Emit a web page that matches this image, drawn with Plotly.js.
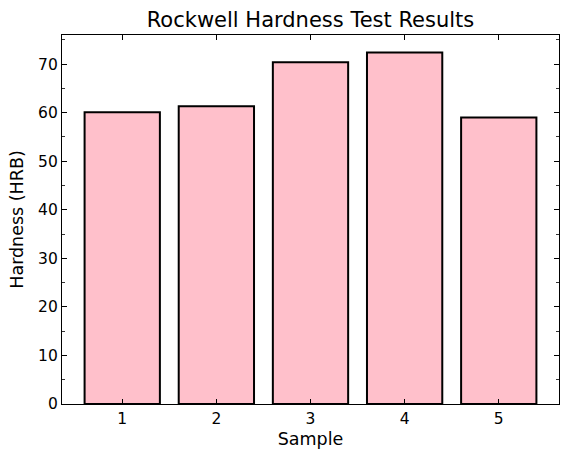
<!DOCTYPE html>
<html>
<head>
<meta charset="utf-8">
<script src="https://cdn.plot.ly/plotly-3.0.1.min.js"></script>
<style>html,body{margin:0;padding:0;background:#fff;}</style>
</head>
<body>
<div id="chart" style="width:567px;height:461px;"></div>
<script>
const samples = [1, 2, 3, 4, 5];
const sampleLabels = ["1", "2", "3", "4", "5"];
const hardness = [60.1, 61.3, 70.4, 72.4, 59.0];

const font = "DejaVu Sans, sans-serif";

const trace = {
  type: "bar",
  x: samples,
  y: hardness,
  width: 0.8,
  marker: {color: "#FFC0CB", line: {color: "#000000", width: 2}},
  hoverinfo: "skip"
};

const layout = {
  width: 567,
  height: 461,
  margin: {l: 62, r: 8, t: 35, b: 57},
  paper_bgcolor: "#ffffff",
  plot_bgcolor: "#ffffff",
  font: {family: font, color: "#000000"},
  showlegend: false,
  title: {
    text: "Rockwell Hardness Test Results",
    font: {family: font, size: 21, color: "#000000"},
    x: 0.5, xref: "paper", xanchor: "center",
    y: 1 - 20 / 461, yref: "container", yanchor: "middle"
  },
  xaxis: {
    range: [0.36, 5.64],
    tickmode: "array",
    tickvals: samples,
    ticktext: sampleLabels,
    ticks: "inside",
    ticklen: 5,
    tickwidth: 1,
    tickcolor: "#000",
    showline: true,
    linecolor: "#000",
    linewidth: 1.1,
    mirror: "ticks",
    showgrid: false,
    zeroline: false,
    tickfont: {family: font, size: 15.5, color: "#000"},
    title: {text: "Sample", font: {family: font, size: 17.5, color: "#000"}, standoff: 6},
    automargin: false
  },
  yaxis: {
    range: [0, 76.0],
    tickmode: "linear",
    tick0: 0,
    dtick: 10,
    ticks: "inside",
    ticklen: 5,
    tickwidth: 1,
    tickcolor: "#000",
    minor: {dtick: 5, tick0: 0, ticks: "inside", ticklen: 3, tickwidth: 0.8, tickcolor: "#000", showgrid: false},
    showline: true,
    linecolor: "#000",
    linewidth: 1.1,
    mirror: "ticks",
    showgrid: false,
    zeroline: false,
    tickfont: {family: font, size: 15.5, color: "#000"},
    title: {text: "Hardness (HRB)", font: {family: font, size: 17.5, color: "#000"}, standoff: 9},
    automargin: false
  },
  bargap: 0
};

Plotly.newPlot("chart", [trace], layout, {displayModeBar: false, staticPlot: true});
</script>
</body>
</html>
